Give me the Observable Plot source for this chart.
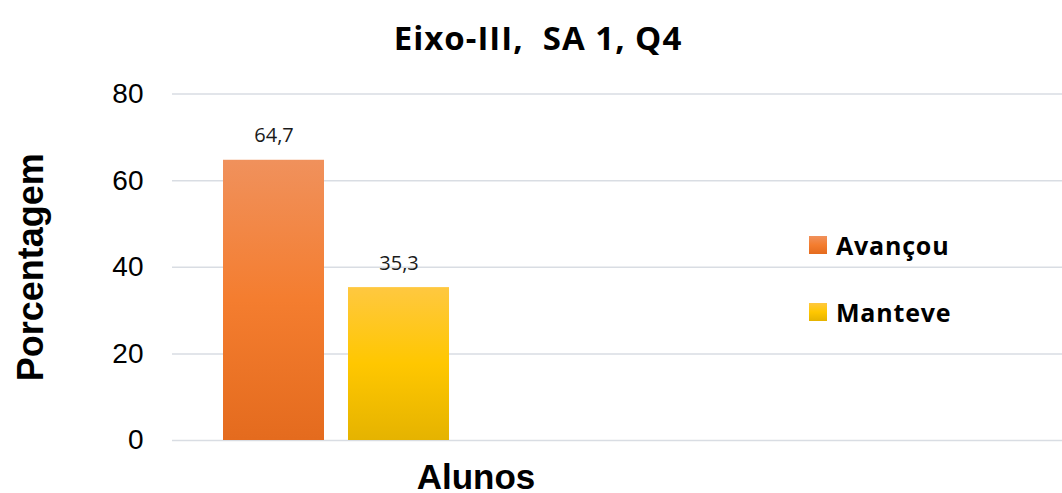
<!DOCTYPE html>
<html><head><meta charset="utf-8">
<script src="https://cdn.jsdelivr.net/npm/d3@7"></script>
<script src="https://cdn.jsdelivr.net/npm/@observablehq/plot@0.6"></script>
<style>
body{margin:0;background:#fff;}
#wrap{position:relative;width:1062px;height:493px;overflow:hidden;font-family:"Liberation Sans",Arial,sans-serif;}
#title{position:absolute;left:0;top:15px;width:1076px;line-height:34px;text-align:center;font:bold 33px "Open Sans",sans-serif;letter-spacing:1px;white-space:pre;color:#000;}
#chart{position:absolute;left:0;top:70px;}
#xlabel{position:absolute;left:0;top:457px;width:952px;line-height:40px;text-align:center;font:bold 35px "Liberation Sans",Arial,sans-serif;color:#000;}
.leg{position:absolute;left:809px;height:30px;display:flex;align-items:center;font:bold 25px "Open Sans",sans-serif;letter-spacing:0.8px;color:#000;}
.sw{width:18px;height:18px;margin-right:9px;}
</style></head>
<body>
<div id="wrap">
  <div id="title"></div>
  <div id="chart"></div>
  <div id="xlabel"></div>
  <div id="legend"></div>
</div>
<script>
const titleText = "Eixo-III,  SA 1, Q4";
const xTitle = "Alunos";
const yTitle = "Porcentagem";
const categories = ["Avançou", "Manteve"];
const values = [64.7, 35.3];
const valueLabels = ["64,7", "35,3"];
const yTicks = [0, 20, 40, 60, 80];
const gradIds = ["gA", "gB"];
const gradStops = [
  ["#f0915c", "#f47d2f", "#e46b1e"],
  ["#ffc840", "#ffc700", "#e5b300"]
];

document.getElementById("title").textContent = titleText;
document.getElementById("xlabel").textContent = xTitle;

const data = categories.map((c, i) => ({cat: c, value: values[i], label: valueLabels[i], grad: gradIds[i]}));

const defsMark = () => {
  const defs = d3.create("svg:defs");
  gradIds.forEach((id, i) => {
    const g = defs.append("linearGradient").attr("id", id).attr("x1", 0).attr("y1", 0).attr("x2", 0).attr("y2", 1);
    gradStops[i].forEach((c, j) => g.append("stop").attr("offset", j / 2).attr("stop-color", c));
  });
  return defs.node();
};

const plot = Plot.plot({
  width: 1062,
  height: 390,
  marginTop: 23.5,
  marginBottom: 20,
  marginLeft: 172,
  marginRight: 0,
  style: {fontFamily: "'Liberation Sans', Arial, sans-serif", color: "#000", overflow: "visible"},
  x: {domain: categories, range: [222, 450], paddingInner: 0.19, paddingOuter: 0, axis: null},
  y: {domain: [0, 80], axis: null},
  marks: [
    defsMark,
    Plot.ruleY(yTicks, {stroke: "#d9dde3", strokeWidth: 1.5}),
    Plot.axisY({ticks: yTicks, tickSize: 0, tickPadding: 29, fontSize: 28, label: null}),
    ...data.map(d => Plot.barY([d], {x: "cat", y: "value", fill: `url(#${d.grad})`})),
    Plot.text(data, {x: "cat", y: "value", text: "label", dy: -24.5, fontSize: 20, fontFamily: "'Open Sans', sans-serif", fill: "#1a1a1a"}),
    Plot.text([yTitle], {frameAnchor: "left", textAnchor: "middle", rotate: -90, dx: -141.5, fontSize: 36, fontWeight: "bold", fill: "#000"})
  ]
});
document.getElementById("chart").appendChild(plot);

const legend = document.getElementById("legend");
const legCenters = [245, 312];
categories.forEach((c, i) => {
  const row = document.createElement("div");
  row.className = "leg";
  row.style.top = (legCenters[i] - 15) + "px";
  const sw = document.createElement("div");
  sw.className = "sw";
  sw.style.background = `linear-gradient(${gradStops[i][0]}, ${gradStops[i][1]}, ${gradStops[i][2]})`;
  const t = document.createElement("span");
  t.textContent = c;
  row.appendChild(sw);
  row.appendChild(t);
  legend.appendChild(row);
});
</script>
</body></html>
